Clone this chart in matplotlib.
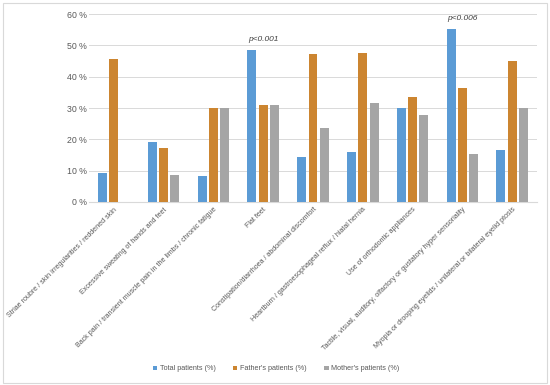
import matplotlib
matplotlib.use("Agg")
import matplotlib.pyplot as plt
import numpy as np

categories = [
    "Striae roubre / skin irregularities / reddened skin",
    "Excessive sweating of hands and feet",
    "Back pain / transient muscle pain in the limbs / chronic fatigue",
    "Flat feet",
    "Constipation/diarrhoea / abdominal discomfort",
    "Heartburn / gastroesophageal reflux / hiatal hernia",
    "Use of orthodontic appliances",
    "Tactile, visual, auditory, olfactory or gustatory hyper sensoriality",
    "Myopia or drooping eyelids / unilateral or bilateral eyelid ptosis",
]
total = [9.1, 19.1, 8.3, 48.4, 14.3, 15.9, 30.0, 55.1, 16.6]
father = [45.5, 17.3, 30.0, 31.1, 47.1, 47.4, 33.4, 36.4, 45.0]
mother = [0.0, 8.7, 30.0, 31.1, 23.5, 31.7, 27.8, 15.2, 30.0]
series_names = ["Total patients (%)", "Father's patients (%)", "Mother's patients (%)"]
colors = ["#5B9BD5", "#CC8530", "#A5A5A5"]
p_labels = {3: "p<0.001", 7: "p<0.006"}

plt.rcParams["font.family"] = ["Liberation Sans", "DejaVu Sans"]

fig = plt.figure(figsize=(5.5, 3.85), dpi=100)
ax = fig.add_axes([89 / 550, 1 - 202 / 385, 448 / 550, 188 / 385])

x = np.arange(len(categories))
step = 0.227
width = 0.18
for i, (vals, name, col) in enumerate(zip([total, father, mother], series_names, colors)):
    ax.bar(x + (i - 1) * step, vals, width, color=col, label=name, zorder=3)

for idx, txt in p_labels.items():
    top = max(total[idx], father[idx], mother[idx])
    ax.text(x[idx], top + 2.5, txt, ha="center", va="bottom", fontsize=6,
            style="italic", color="#404040")

ax.set_xlim(-0.5, len(categories) - 0.5)
ax.set_ylim(0, 60)
ax.set_yticks(range(0, 61, 10))
ax.set_yticklabels([f"{v} %" for v in range(0, 61, 10)], fontsize=6.3, color="#595959")
ax.yaxis.grid(True, color="#D9D9D9", linewidth=0.7, zorder=0)
ax.tick_params(axis="y", length=0, pad=1.5)
ax.tick_params(axis="x", length=0, pad=3)
ax.set_xticks(x)
ax.set_xticklabels(categories, rotation=45, ha="right", rotation_mode="anchor",
                   fontsize=5.1, color="#595959")
for s in ["top", "right", "left"]:
    ax.spines[s].set_visible(False)
ax.spines["bottom"].set_color("#D9D9D9")

fig.legend(loc="center", bbox_to_anchor=(0.502, 1 - 369 / 385), ncol=3, frameon=False,
           fontsize=5.2, handlelength=0.6, handleheight=0.6, columnspacing=2.4,
           handletextpad=0.4, labelcolor="#595959")

border = plt.Rectangle((0.006, 0.006), 0.988, 0.985, transform=fig.transFigure,
                       fill=False, edgecolor="#D9D9D9", linewidth=0.8)
fig.patches.append(border)

fig.savefig("out.png", dpi=100)
